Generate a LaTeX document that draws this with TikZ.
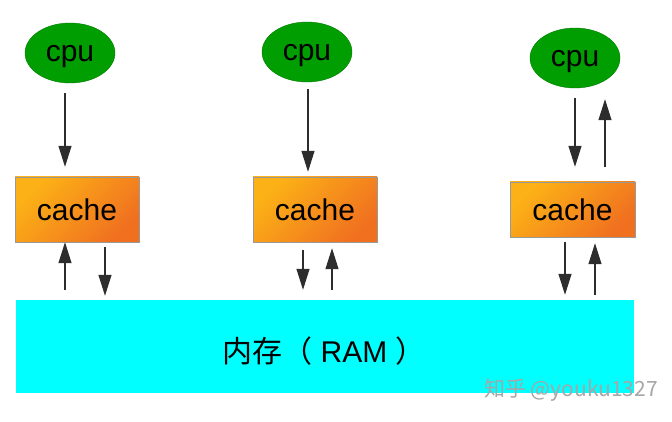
\documentclass[tikz,border=0pt]{standalone}
\usepackage{fontspec}
\setmainfont{Liberation Sans}
\newfontfamily\cjk{Noto Sans CJK SC}
\usetikzlibrary{arrows.meta,calc,shapes.geometric}
\definecolor{cpugreen}{RGB}{0,158,0}
\definecolor{cpuedge}{RGB}{0,125,0}
\definecolor{cachetop}{RGB}{252,178,22}
\definecolor{cachebot}{RGB}{240,112,32}
\definecolor{ramcyan}{RGB}{0,255,255}
\definecolor{arrowgray}{RGB}{45,45,45}
\begin{document}
\begin{tikzpicture}[x=1pt,y=1pt,
        cpu/.style={ellipse,draw=cpuedge,fill=cpugreen,minimum width=90pt,minimum height=60pt,inner sep=0pt,text depth=0pt,font=\fontsize{30}{36}\selectfont},
        cachebox/.style={rectangle,draw=black!40,top color=cachetop,bottom color=cachebot,shading angle=45,minimum height=65pt,minimum width=124pt,inner sep=0pt,font=\fontsize{30}{36}\selectfont},
        arr/.style={draw=arrowgray,line width=1.1pt,-{Triangle[length=21pt,width=13pt]}}]
    \useasboundingbox (0,0) rectangle (672,-422);
    % three cpus
    \node[cpu] (cpuA) at (70,-53) {cpu};
    \node[cpu] (cpuB) at (307,-52) {cpu};
    \node[cpu] (cpuC) at (575,-58) {cpu};
    % caches
    \node[cachebox] (cacheA) at (77,-209.5) {cache};
    \node[cachebox] (cacheB) at (315,-209.5) {cache};
    \node[cachebox,minimum width=125pt,minimum height=55pt] (cacheC) at (572.5,-209.5) {cache};
    % memory
    \node[rectangle,fill=ramcyan,minimum width=618pt,minimum height=93pt,inner sep=0pt] (ram) at (325,-346.5) {};
    \node[font=\fontsize{30}{36}\selectfont,inner sep=0pt] (ramtext) at ($(ram.center)+(-1,-5)$) {{\cjk 内存（} RAM {\cjk ）}};
    % cpu <-> cache
    \draw[arr] ($(cpuA.south)+(-5,-10)$) -- ($(cacheA.north)+(-12,10)$);
    \draw[arr] ($(cpuB.south)+(1,-7)$) -- ($(cacheB.north)+(-7,5)$);
    \draw[arr] ($(cpuC.south)+(0,-10)$) -- ($(cacheC.north)+(2.5,15)$);
    \draw[arr] ($(cacheC.north)+(32.5,15)$) -- ($(cpuC.south)+(30,-11)$);
    % cache <-> ram
    \draw[arr] ($(cacheA.south |- ram.north)+(-12,10)$) -- (cacheA.south -| 65,0);
    \draw[arr] ($(cacheA.south)+(28,-5)$) -- ($(cacheA.south |- ram.north)+(28,4)$);
    \draw[arr] ($(cacheB.south)+(-12,-8)$) -- ($(cacheB.south |- ram.north)+(-12,10)$);
    \draw[arr] ($(cacheB.south |- ram.north)+(17,10)$) -- ($(cacheB.south)+(17,-6)$);
    \draw[arr] ($(cacheC.south)+(-7.5,-5)$) -- ($(cacheC.south |- ram.north)+(-7.5,5)$);
    \draw[arr] ($(cacheC.south |- ram.north)+(22.5,5)$) -- ($(cacheC.south)+(22.5,-6)$);
    % watermark
    \node[text=black!35,font=\cjk\fontsize{21}{24}\selectfont] (mark) at (571,-390) {知乎 @youku1327};
\end{tikzpicture}
\end{document}
